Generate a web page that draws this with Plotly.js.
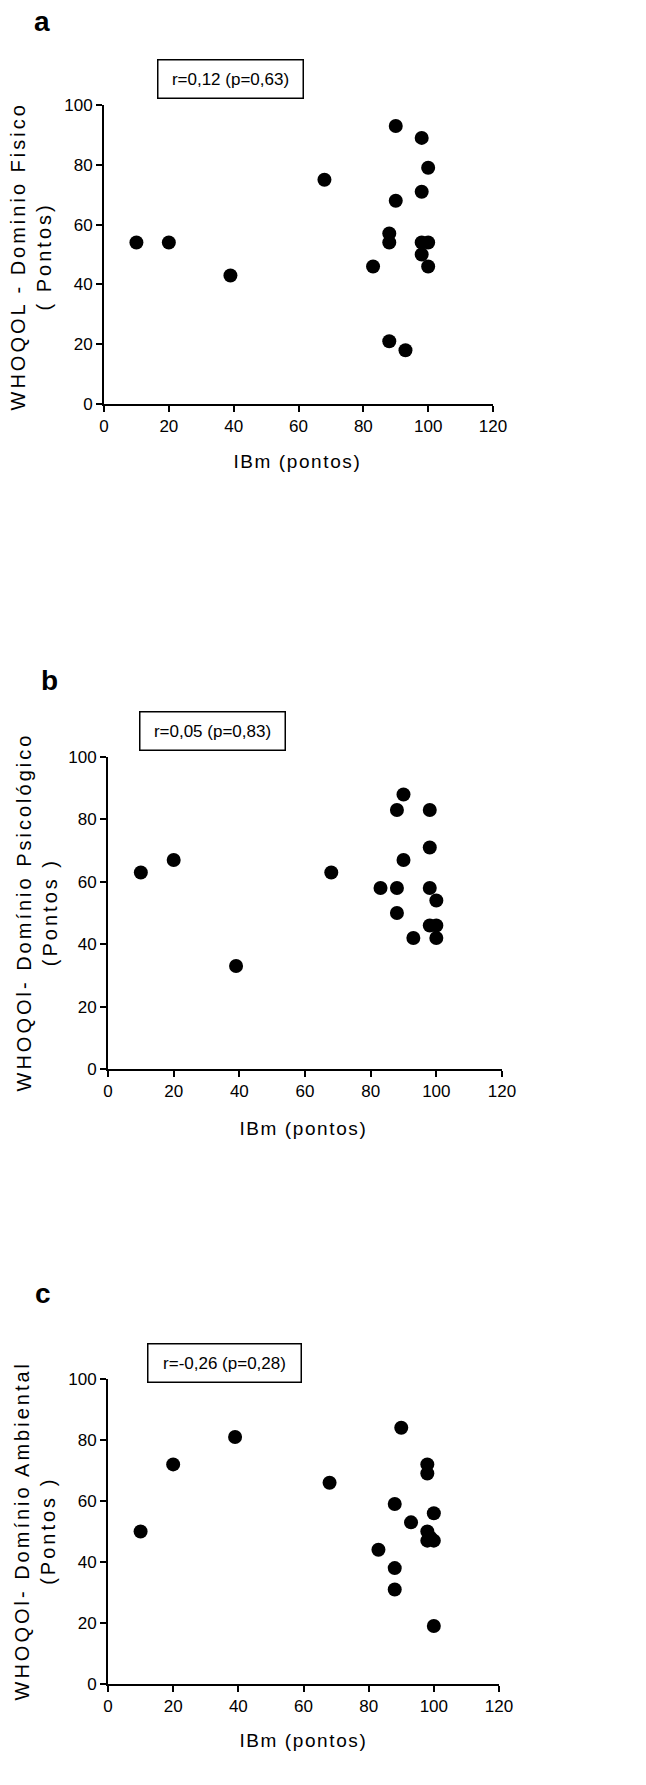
<!DOCTYPE html>
<html>
<head>
<meta charset="utf-8">
<script src="https://cdn.plot.ly/plotly-3.0.1.min.js"></script>
<style>
html,body{margin:0;padding:0;background:#fff;}
#chart{width:646px;height:1785px;}
</style>
</head>
<body>
<div id="chart"></div>
<script>
// Panel a: WHOQOL - Domínio Físico vs IBm
const ibmA = [10, 20, 39, 68, 90, 98, 100, 98, 90, 88, 88, 83, 98, 100, 98, 100, 88, 93];
const fisico = [54, 54, 43, 75, 93, 89, 79, 71, 68, 57, 54, 46, 54, 54, 50, 46, 21, 18];
// Panel b: Domínio Psicológico
const ibmB = [10, 20, 39, 68, 90, 88, 98, 98, 90, 83, 88, 98, 100, 88, 98, 100, 93, 100];
const psicologico = [63, 67, 33, 63, 88, 83, 83, 71, 67, 58, 58, 58, 54, 50, 46, 46, 42, 42];
// Panel c: Domínio Ambiental
const ibmC = [10, 20, 39, 68, 90, 98, 98, 88, 100, 93, 98, 98, 100, 99, 83, 88, 88, 100];
const ambiental = [50, 72, 81, 66, 84, 72, 69, 59, 56, 53, 50, 47, 47, 48, 44, 38, 31, 19];

const xTicks = [0, 20, 40, 60, 80, 100, 120];
const yTicks = [0, 20, 40, 60, 80, 100];
const corrLabels = ["r=0,12 (p=0,63)", "r=0,05 (p=0,83)", "r=-0,26 (p=0,28)"];
const panelLabels = ["a", "b", "c"];
const yTitles = ["WHOQOL - Dominio Fisico<br>( Pontos)", "WHOQOl- Domínio Psicológico<br>(Pontos )", "WHOQOl- Domínio Ambiental<br>(Pontos )"];
const xTitles = ["IBm (pontos)", "IBm (pontos)", "IBm (pontos)"];

const W = 646, H = 1785;
const FONT = "Liberation Sans, Arial, sans-serif";
const px = v => v / W;
const py = v => 1 - v / H;

const marker = {color: "#000", size: 14, symbol: "circle"};
const traces = [
  {x: ibmA, y: fisico, type: "scatter", mode: "markers", marker: marker, xaxis: "x", yaxis: "y", hoverinfo: "x+y"},
  {x: ibmB, y: psicologico, type: "scatter", mode: "markers", marker: marker, xaxis: "x2", yaxis: "y2", hoverinfo: "x+y"},
  {x: ibmC, y: ambiental, type: "scatter", mode: "markers", marker: marker, xaxis: "x3", yaxis: "y3", hoverinfo: "x+y"}
];

function ax(domain, anchor) {
  return {
    domain: domain, anchor: anchor, range: null,
    showgrid: false, zeroline: false, showline: true,
    linecolor: "#000", linewidth: 2,
    ticks: "outside", ticklen: 6, tickwidth: 1.5, tickcolor: "#000",
    tickfont: {family: FONT, size: 17, color: "#000"},
    fixedrange: true
  };
}

// pixel geometry of each panel: [xLeft, xRight, yTop, yBottom]
const geo = [[104, 493, 105, 404], [108, 502, 757, 1069], [108, 499, 1379, 1684]];
const axIds = [["x", "y"], ["x2", "y2"], ["x3", "y3"]];
const layout = {
  width: W, height: H,
  margin: {l: 0, r: 0, t: 0, b: 0},
  paper_bgcolor: "#fff", plot_bgcolor: "#fff",
  showlegend: false,
  annotations: [],
  font: {family: FONT, color: "#000"}
};
geo.forEach((g, i) => {
  const xa = ax([px(g[0]), px(g[1])], axIds[i][1]);
  xa.range = [0, 120]; xa.tickvals = xTicks; xa.ticktext = xTicks.map(String);
  const ya = ax([py(g[3]), py(g[2])], axIds[i][0]);
  ya.range = [0, 100]; ya.tickvals = yTicks; ya.ticktext = yTicks.map(String);
  const sfx = i === 0 ? "" : String(i + 1);
  layout["xaxis" + sfx] = xa;
  layout["yaxis" + sfx] = ya;
});

const labelPos = [[42, 22], [49, 680], [43, 1293]];
const boxPos = [[230, 79], [213, 731], [224, 1363]];
const boxW = [140, 140, 148];
const xTitlePos = [[297, 462], [303, 1128], [303, 1740]];
const yTitlePos = [[31, 257], [37, 912], [35, 1531]];

for (let i = 0; i < 3; i++) {
  layout.annotations.push({
    xref: "paper", yref: "paper", x: px(labelPos[i][0]), y: py(labelPos[i][1]),
    xanchor: "center", yanchor: "middle", showarrow: false,
    text: "<b>" + panelLabels[i] + "</b>", font: {family: FONT, size: 28, color: "#000"}
  });
  layout.annotations.push({
    xref: "paper", yref: "paper", x: px(boxPos[i][0]), y: py(boxPos[i][1]),
    xanchor: "center", yanchor: "middle", showarrow: false,
    text: corrLabels[i], font: {family: FONT, size: 17, color: "#000"},
    bordercolor: "#000", borderwidth: 1.5, borderpad: 2,
    width: boxW[i], height: 33, bgcolor: "#fff"
  });
  layout.annotations.push({
    xref: "paper", yref: "paper", x: px(xTitlePos[i][0]), y: py(xTitlePos[i][1]),
    xanchor: "center", yanchor: "middle", showarrow: false,
    text: xTitles[i], font: {family: FONT, size: 19, color: "#000"}
  });
  layout.annotations.push({
    xref: "paper", yref: "paper", x: px(yTitlePos[i][0]), y: py(yTitlePos[i][1]),
    xanchor: "center", yanchor: "middle", showarrow: false, textangle: -90,
    text: yTitles[i], font: {family: FONT, size: 20, color: "#000"}
  });
}

Plotly.newPlot("chart", traces, layout, {displayModeBar: false}).then(gd => {
  // the original figure's titles are set with wide letter spacing
  for (let i = 0; i < 3; i++) {
    const xt = gd.querySelector('.annotation[data-index="' + (4 * i + 2) + '"] text');
    const yt = gd.querySelector('.annotation[data-index="' + (4 * i + 3) + '"] text');
    if (xt) xt.style.letterSpacing = "1.6px";
    if (yt) yt.style.letterSpacing = "3px";
  }
});
</script>
</body>
</html>
